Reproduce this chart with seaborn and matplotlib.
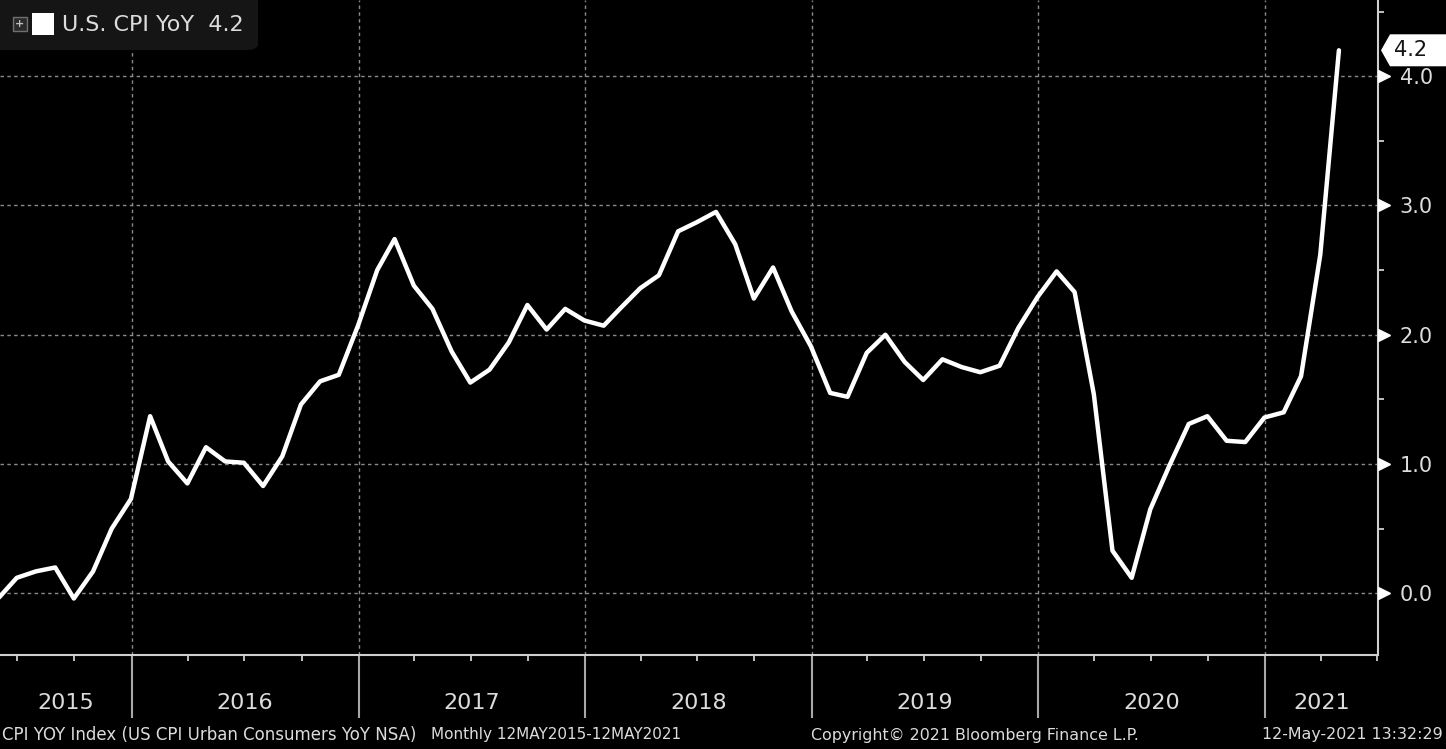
import matplotlib.pyplot as plt
import matplotlib.dates as mdates
import matplotlib.transforms as mtransforms
from matplotlib.patches import FancyBboxPatch, Rectangle, Polygon
from matplotlib.ticker import MultipleLocator, NullFormatter
import numpy as np
import pandas as pd
import seaborn as sns

# US CPI YoY (%), monthly, May 2015 - Apr 2021
months = pd.date_range("2015-05-31", "2021-04-30", freq="ME")
cpi_yoy = [
    -0.04, 0.12, 0.17, 0.20, -0.04, 0.17, 0.50, 0.73,
    1.37, 1.02, 0.85, 1.13, 1.02, 1.01, 0.83, 1.06, 1.46, 1.64, 1.69, 2.07,
    2.50, 2.74, 2.38, 2.20, 1.87, 1.63, 1.73, 1.94, 2.23, 2.04, 2.20, 2.11,
    2.07, 2.21, 2.36, 2.46, 2.80, 2.87, 2.95, 2.70, 2.28, 2.52, 2.18, 1.91,
    1.55, 1.52, 1.86, 2.00, 1.79, 1.65, 1.81, 1.75, 1.71, 1.76, 2.05, 2.29,
    2.49, 2.33, 1.54, 0.33, 0.12, 0.65, 0.99, 1.31, 1.37, 1.18, 1.17, 1.36,
    1.40, 1.68, 2.62, 4.20,
]
y_ticks = [0.0, 1.0, 2.0, 3.0, 4.0]
year_labels = [2015, 2016, 2017, 2018, 2019, 2020, 2021]
legend_text = "U.S. CPI YoY  4.2"
last_label = "4.2"
footer_left = "CPI YOY Index (US CPI Urban Consumers YoY NSA)"
footer_range = "Monthly 12MAY2015-12MAY2021"
footer_copy = "Copyright\u00a9 2021 Bloomberg Finance L.P."
footer_stamp = "12-May-2021 13:32:29"

W, H = 1446, 749
TXT = "#dcdcdc"
GRID = "#8a8a8a"

sns.set_style("dark", rc={"axes.facecolor": "black", "figure.facecolor": "black"})
plt.rcParams["font.family"] = ["DejaVu Sans"]

df = pd.DataFrame({"date": months, "yoy": cpi_yoy})

fig = plt.figure(figsize=(W / 100, H / 100), dpi=100, facecolor="black")
ax = fig.add_axes([0, 1 - 655 / H, 1378 / W, 655 / H])
ax.set_facecolor("black")

sns.lineplot(data=df, x="date", y="yoy", color="white", linewidth=3.2,
             legend=False, ax=ax, zorder=5)

x0, x1 = pd.Timestamp("2015-06-03"), pd.Timestamp("2021-07-02")
ax.set_xlim(x0, x1)
ax.set_ylim(-0.477, 4.589)
ax.set_xlabel("")
ax.set_ylabel("")

# spines
for side in ["top", "left"]:
    ax.spines[side].set_visible(False)
for side in ["bottom", "right"]:
    ax.spines[side].set_visible(True)
    ax.spines[side].set_color("#cfcfcf")
    ax.spines[side].set_linewidth(1.5)

# x axis: year separators and quarterly ticks
ax.xaxis.set_major_locator(mdates.YearLocator())
ax.xaxis.set_minor_locator(mdates.MonthLocator(bymonth=[1, 4, 7, 10]))
ax.xaxis.set_major_formatter(NullFormatter())
ax.xaxis.set_minor_formatter(NullFormatter())
ax.tick_params(axis="x", which="both", bottom=True, top=False)
ax.tick_params(axis="x", which="major", direction="out", length=45,
               width=1.5, color="#a8a8a8")
ax.tick_params(axis="x", which="minor", direction="out", length=4,
               width=1.3, color="#cfcfcf")

# y axis on the right
ax.yaxis.tick_right()
ax.set_yticks(y_ticks)
ax.set_yticklabels([f"{v:.1f}" for v in y_ticks])
ax.yaxis.set_minor_locator(MultipleLocator(0.5))
ax.tick_params(axis="y", which="both", right=True, left=False)
ax.tick_params(axis="y", which="major", length=0, pad=15.5, labelsize=15,
               labelcolor=TXT)
ax.tick_params(axis="y", which="minor", direction="out", length=4,
               width=1.3, color="#cfcfcf")

ax.grid(True, which="major", axis="both", color=GRID, linewidth=1.0,
        linestyle=(0, (2.5, 2.4)))

# triangle tick markers
tri = mtransforms.blended_transform_factory(ax.transAxes, ax.transData) + \
    mtransforms.ScaledTranslation(6 / 100, 0, fig.dpi_scale_trans)
ax.plot([1] * len(y_ticks), y_ticks, linestyle="none", marker=">",
        markersize=9, color="white", transform=tri, clip_on=False, zorder=6)

# year labels centred on the visible part of each year
xt = mtransforms.blended_transform_factory(ax.transData, ax.transAxes)
for yr in year_labels:
    a = max(pd.Timestamp(f"{yr}-01-01"), x0)
    b = min(pd.Timestamp(f"{yr + 1}-01-01"), x1)
    mid = a + (b - a) / 2
    ax.text(mdates.date2num(mid), -0.073, str(yr), transform=xt, ha="center",
            va="center", fontsize=16, color=TXT)

# legend box
fig.patches.append(FancyBboxPatch((-10 / W, 1 - 50 / H), 268 / W, 60 / H,
                                  boxstyle="round,pad=0,rounding_size=0.008",
                                  transform=fig.transFigure, facecolor="#151515",
                                  edgecolor="none", zorder=10))
fig.patches.append(Rectangle((13 / W, 1 - 31 / H), 14 / W, 14 / H,
                             transform=fig.transFigure, facecolor="#2b2b2b",
                             edgecolor="#707070", linewidth=1, zorder=11))
fig.text(20 / W, 1 - 24 / H, "+", ha="center", va="center", fontsize=8,
         color="#bdbdbd", zorder=12, fontweight="bold")
fig.patches.append(Rectangle((32 / W, 1 - 35 / H), 22 / W, 22 / H,
                             transform=fig.transFigure, facecolor="white",
                             edgecolor="none", zorder=11))
fig.text(62 / W, 1 - 25 / H, legend_text, ha="left", va="center", fontsize=16,
         color=TXT, zorder=12)

# last value tag
fig.canvas.draw()
y_px = H - ax.transData.transform((0, cpi_yoy[-1]))[1]
tag = [(1381, y_px), (1390, y_px - 16), (W + 2, y_px - 16),
       (W + 2, y_px + 16), (1390, y_px + 16)]
fig.patches.append(Polygon([(px / W, 1 - py / H) for px, py in tag],
                           closed=True, transform=fig.transFigure,
                           facecolor="white", edgecolor="none", zorder=10))
fig.text(1394 / W, 1 - y_px / H, last_label, ha="left", va="center",
         fontsize=15, color="#151515", zorder=11)

# footer
fy = 1 - 735 / H
for x, s, ha, fs in [(2, footer_left, "left", 12), (431, footer_range, "left", 11),
                     (811, footer_copy, "left", 11.4),
                     (1443, footer_stamp, "right", 11.4)]:
    fig.text(x / W, fy, s, ha=ha, va="center", fontsize=fs, color=TXT)

fig.savefig("out.png", dpi=100, facecolor="black")
